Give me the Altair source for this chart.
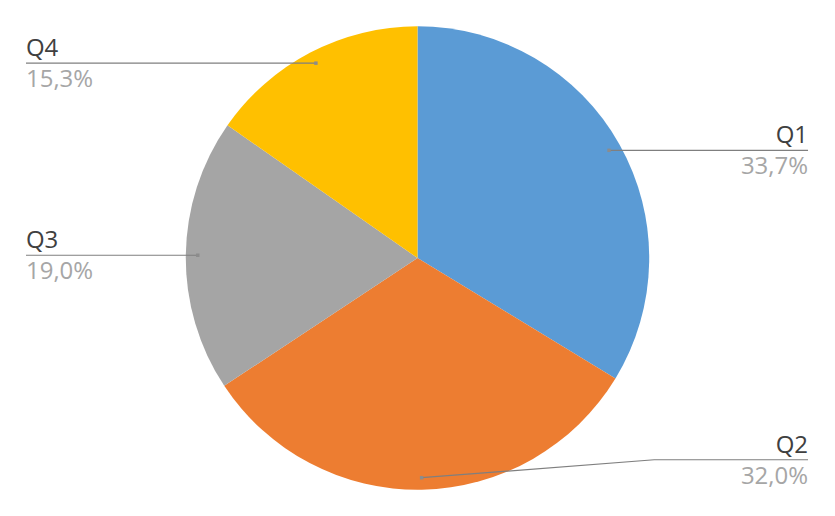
import numpy as np
import pandas as pd
import altair as alt

# data
quarters = ['Q1', 'Q2', 'Q3', 'Q4']
shares = [33.7, 32.0, 19.0, 15.3]
colors = ['#5B9BD5', '#ED7D31', '#A5A5A5', '#FFC000']

# layout (chart pixels, origin top-left of plot area)
W, H = 820, 500
cx, cy = W / 2, H / 2
R = 232
anchor_r = 220
label_side = {'Q1': 'right', 'Q2': 'right', 'Q3': 'left', 'Q4': 'left'}
label_x = {'left': 18, 'right': 801}
# Q2's label was dragged down, so its leader has an elbow
elbow = {'Q2': (647, 452)}

pie_df = pd.DataFrame({'quarter': quarters, 'share': shares, 'order': range(len(quarters))})

# anchor points on the slices, from the mid angle of each slice
total = sum(shares)
cum = np.cumsum([0] + shares[:-1])
mid = (cum + np.array(shares) / 2) / total * 2 * np.pi
ax_ = cx + anchor_r * np.sin(mid)
ay_ = cy - anchor_r * np.cos(mid)

line_rows, label_rows, dot_rows = [], [], []
for q, s, x0, y0 in zip(quarters, shares, ax_, ay_):
    side = label_side[q]
    pts = [(x0, y0)]
    if q in elbow:
        pts.append(elbow[q])
    line_y = pts[-1][1]
    pts.append((label_x[side], line_y))
    for i, (px, py) in enumerate(pts):
        line_rows.append({'quarter': q, 'step': i, 'x': px, 'y': py})
    dot_rows.append({'quarter': q, 'x': x0, 'y': y0})
    label_rows.append({'quarter': q, 'side': side, 'x': label_x[side],
                       'name_y': line_y - 7, 'pct_y': line_y + 24,
                       'pct': f'{s:.1f}'.replace('.', ',') + '%'})

lines_df = pd.DataFrame(line_rows)
dots_df = pd.DataFrame(dot_rows)
labels_df = pd.DataFrame(label_rows)

xs = alt.Scale(domain=[0, W], nice=False, zero=False)
ys = alt.Scale(domain=[0, H], nice=False, zero=False, reverse=True)

pie = alt.Chart(pie_df).mark_arc(outerRadius=R).encode(
    theta=alt.Theta('share:Q', stack=True),
    color=alt.Color('quarter:N', scale=alt.Scale(domain=quarters, range=colors), legend=None),
    order=alt.Order('order:Q'),
)

leaders = alt.Chart(lines_df).mark_line(color='#7F7F7F', strokeWidth=1.2).encode(
    x=alt.X('x:Q', scale=xs, axis=None),
    y=alt.Y('y:Q', scale=ys, axis=None),
    detail='quarter:N',
    order='step:Q',
)

dots = alt.Chart(dots_df).mark_square(color='#8C8C8C', size=12, opacity=1).encode(
    x=alt.X('x:Q', scale=xs, axis=None),
    y=alt.Y('y:Q', scale=ys, axis=None),
)

font = 'Open Sans'
left = labels_df[labels_df.side == 'left']
right = labels_df[labels_df.side == 'right']

def label_layer(df, align):
    names = alt.Chart(df).mark_text(align=align, baseline='alphabetic', font=font,
                                    fontSize=24, color='#404040').encode(
        x=alt.X('x:Q', scale=xs, axis=None),
        y=alt.Y('name_y:Q', scale=ys, axis=None),
        text='quarter:N',
    )
    pcts = alt.Chart(df).mark_text(align=align, baseline='alphabetic', font=font,
                                   fontSize=24, color='#A6A6A6').encode(
        x=alt.X('x:Q', scale=xs, axis=None),
        y=alt.Y('pct_y:Q', scale=ys, axis=None),
        text='pct:N',
    )
    return names + pcts

chart = alt.layer(
    pie, leaders, dots, label_layer(left, 'left'), label_layer(right, 'right')
).properties(
    width=W, height=H, padding=0, autosize='none'
).configure_view(stroke=None)

chart.save("out.html", embed_options={"renderer": "svg", "actions": False})
